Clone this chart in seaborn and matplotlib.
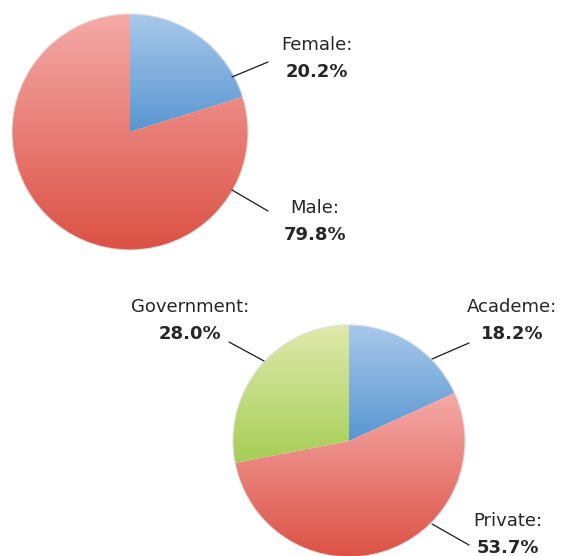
import numpy as np
import seaborn as sns
import matplotlib.pyplot as plt
from matplotlib.colors import LinearSegmentedColormap

sns.set_theme(style="white")
plt.rcParams['font.family'] = ['DejaVu Sans']

# 数据
gender_labels = ["Female", "Male"]
gender_values = [20.2, 79.8]
sector_labels = ["Academe", "Private", "Government"]
sector_values = [18.2, 53.7, 28.0]

# 渐变色（上浅下深）
grad = {
    "blue": ("#a9c8ea", "#5896d2"),
    "red": ("#f5aaa8", "#dc5144"),
    "green": ("#dfe9ac", "#a6ce56"),
}
gender_colors = ["blue", "red"]
sector_colors = ["blue", "red", "green"]

W, H = 561, 556
fig = plt.figure(figsize=(W / 100, H / 100), dpi=100)
ax = fig.add_axes([0, 0, 1, 1])
ax.set_xlim(0, W)
ax.set_ylim(0, H)


def gradient_pie(ax, values, colors, center, radius):
    wedges, _ = ax.pie(values, startangle=90, counterclock=False,
                       center=center, radius=radius,
                       wedgeprops=dict(linewidth=0))
    g = np.linspace(0, 1, 256).reshape(-1, 1)
    for w, c in zip(wedges, colors):
        # 每个扇区自己的上下范围
        verts = w.get_path().vertices
        y0, y1 = verts[:, 1].min(), verts[:, 1].max()
        x0, x1 = verts[:, 0].min(), verts[:, 0].max()
        cmap = LinearSegmentedColormap.from_list("g", [grad[c][1], grad[c][0]])
        w.set_facecolor("none")
        im = ax.imshow(g, extent=[x0, x1, y0, y1], origin="lower", cmap=cmap,
                       aspect="auto", zorder=1)
        im.set_clip_path(w)
    ax.add_patch(plt.Circle(center, radius, fill=False, ec="#dcdcdc", lw=0.8, zorder=2))
    return wedges


def label(ax, name, value, text_xy, line):
    x, y = text_xy
    ax.text(x, y, name + ":", ha="center", va="center", fontsize=13, color="#262626")
    ax.text(x, y - 27, f"{value:.1f}%", ha="center", va="center", fontsize=13,
            fontweight="bold", color="#262626")
    (x0, y0), (x1, y1) = line
    ax.plot([x0, x1], [y0, y1], color="#1a1a1a", lw=0.9, zorder=3)


gradient_pie(ax, gender_values, gender_colors, (130, H - 132), 118)
gradient_pie(ax, sector_values, sector_colors, (349, H - 441), 116)

label(ax, gender_labels[0], gender_values[0], (317, H - 45), ((232, H - 77), (268, H - 62)))
label(ax, gender_labels[1], gender_values[1], (315, H - 208), ((232, H - 190), (268, H - 211)))
label(ax, sector_labels[0], sector_values[0], (512, H - 307), ((432, H - 359), (469, H - 343)))
label(ax, sector_labels[1], sector_values[1], (508, H - 521), ((432, H - 524), (469, H - 545)))
label(ax, sector_labels[2], sector_values[2], (190, H - 307), ((264, H - 361), (229, H - 342)))

ax.set_xlim(0, W)
ax.set_ylim(0, H)
ax.set_aspect("auto")
ax.axis("off")
fig.savefig("out.png", dpi=100, facecolor="white")
